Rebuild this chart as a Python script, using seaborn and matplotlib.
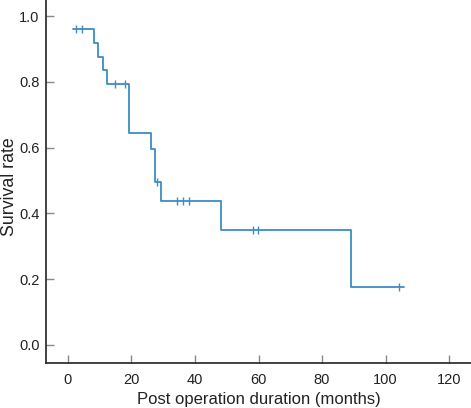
import numpy as np
import pandas as pd
import matplotlib
matplotlib.use("Agg")
import matplotlib.pyplot as plt
import seaborn as sns

# Kaplan-Meier step points (time in months, survival)
step_time = [1.6, 8.2, 9.5, 10.9, 12.4, 19.2, 26.0, 27.5, 29.4, 48.2, 89.1, 105.7]
step_surv = [0.960, 0.917, 0.875, 0.836, 0.793, 0.645, 0.595, 0.494, 0.439, 0.350, 0.177, 0.177]

# censored observations
cens_time = [2.7, 4.5, 14.7, 18.0, 28.1, 34.2, 36.1, 38.0, 58.4, 59.8, 104.2]
cens_surv = [0.960, 0.960, 0.793, 0.793, 0.494, 0.439, 0.439, 0.439, 0.350, 0.350, 0.177]

x_ticks = [0, 20, 40, 60, 80, 100, 120]
y_ticks = [0.0, 0.2, 0.4, 0.6, 0.8, 1.0]

steps = pd.DataFrame({"time": step_time, "surv": step_surv})
cens = pd.DataFrame({"time": cens_time, "surv": cens_surv})

sns.set_style("ticks")
plt.rcParams["font.family"] = ["Liberation Sans", "DejaVu Sans"]

line_color = "#3b8ec4"

fig = plt.figure(figsize=(4.71, 4.08), dpi=100)
ax = fig.add_axes([46 / 471, 45 / 408, 1 - 46 / 471, 1 - 45 / 408])

sns.lineplot(data=steps, x="time", y="surv", drawstyle="steps-post",
             color=line_color, linewidth=1.3, ax=ax, estimator=None)
sns.scatterplot(data=cens, x="time", y="surv", marker="|", s=40,
                color=line_color, linewidth=1.0, ax=ax, zorder=3)

ax.set_xlim(-6.9, 126.9)
ax.set_ylim(-0.055, 1.049)
ax.set_xticks(x_ticks)
ax.set_yticks(y_ticks)
ax.set_yticklabels([f"{v:.1f}" for v in y_ticks])

ax.tick_params(direction="in", length=6, width=1, color="#888888",
               labelsize=10.5, labelcolor="#222222")
ax.tick_params(axis="x", pad=7)
ax.tick_params(axis="y", pad=4.5)
for side in ["top", "right"]:
    ax.spines[side].set_visible(False)
for side in ["left", "bottom"]:
    ax.spines[side].set_color("#222222")
    ax.spines[side].set_linewidth(1.2)

ax.set_xlabel("Post operation duration (months)", fontsize=12, color="#222222", labelpad=4)
ax.set_ylabel("Survival rate", fontsize=12.8, color="#222222")
ax.yaxis.set_label_coords(-0.066, 0.485)

fig.savefig("out.png", dpi=100)
